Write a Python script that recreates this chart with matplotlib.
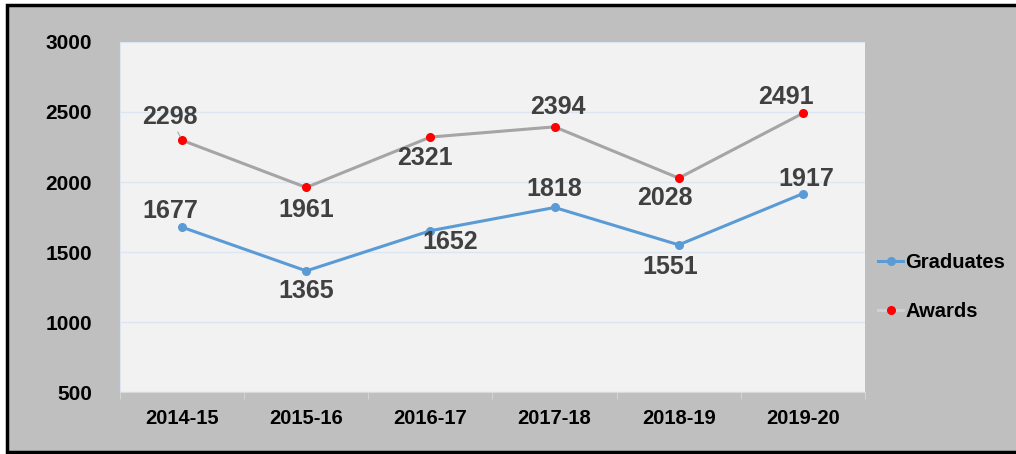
import matplotlib
matplotlib.use('Agg')
import matplotlib.pyplot as plt
from matplotlib.patches import Rectangle
from matplotlib.lines import Line2D

years = ['2014-15', '2015-16', '2016-17', '2017-18', '2018-19', '2019-20']
graduates = [1677, 1365, 1652, 1818, 1551, 1917]
awards = [2298, 1961, 2321, 2394, 2028, 2491]

# label offsets in pixels (dx, dy)
grad_offsets = [(-12, 16), (0, -20), (20, -11), (0, 18), (-9, -22), (3, 15)]
award_offsets = [(-12, 23), (0, -23), (-5, -21), (3, 20), (-14, -20), (-17, 16)]

plt.rcParams['font.family'] = ['Liberation Sans', 'DejaVu Sans']

fig = plt.figure(figsize=(10.16, 4.54), dpi=100, facecolor='white')
W, H = 1016, 454
fig.patches.append(Rectangle((7 / W, 1 - 452 / H), 1.1, (452 - 5) / H,
                             transform=fig.transFigure, facecolor='#bfbfbf',
                             edgecolor='black', linewidth=2.5, zorder=-10))

ax = fig.add_axes([120 / W, 1 - 392 / H, 745 / W, 350 / H])
ax.set_facecolor('#f2f2f2')
x = list(range(len(years)))

ax.plot(x, graduates, color='#5b9bd5', linewidth=2.2, marker='o',
        markersize=5.5, markerfacecolor='#5b9bd5', markeredgecolor='#5b9bd5', zorder=3)
ax.plot(x, awards, color='#a5a5a5', linewidth=2.2, marker='o',
        markersize=5.5, markerfacecolor='red', markeredgecolor='red', zorder=3)

for xi, v, (dx, dy) in zip(x, graduates, grad_offsets):
    ax.annotate(str(v), (xi, v), xytext=(dx, dy), textcoords='offset pixels',
                ha='center', va='center', fontsize=18, fontweight='bold', color='#404040')
for i, (xi, v, (dx, dy)) in enumerate(zip(x, awards, award_offsets)):
    kw = {}
    if i == 0:
        kw['arrowprops'] = dict(arrowstyle='-', color='#a5a5a5', lw=0.8,
                                shrinkA=10, shrinkB=3)
    ax.annotate(str(v), (xi, v), xytext=(dx, dy), textcoords='offset pixels',
                ha='center', va='center', fontsize=18, fontweight='bold',
                color='#404040', **kw)

ax.set_xlim(-0.5, len(years) - 0.5)
ax.set_ylim(500, 3000)
ax.set_yticks([500, 1000, 1500, 2000, 2500, 3000])
ax.set_xticks(x)
ax.set_xticklabels(years)
ax.set_xticks([i - 0.5 for i in range(len(years) + 1)], minor=True)
ax.tick_params(axis='x', which='major', length=0, pad=12, labelsize=14.5)
ax.tick_params(axis='x', which='minor', length=5, color='#d9d9d9', direction='out')
ax.tick_params(axis='y', length=0, pad=20, labelsize=15)
for lbl in ax.get_xticklabels() + ax.get_yticklabels():
    lbl.set_fontweight('bold')
ax.yaxis.grid(True, color='#dce6f2', linewidth=1)
ax.set_axisbelow(True)
for side in ['top', 'right']:
    ax.spines[side].set_visible(False)
ax.spines['left'].set_color('#dce6f2')
ax.spines['bottom'].set_color('#d9d9d9')

handles = [
    Line2D([], [], color='#5b9bd5', linewidth=2.2, marker='o', markersize=5.5,
           markerfacecolor='#5b9bd5', markeredgecolor='#5b9bd5'),
    Line2D([], [], color='#d0d0d0', linewidth=2.2, marker='o', markersize=5.5,
           markerfacecolor='red', markeredgecolor='red'),
]
fig.legend(handles, ['Graduates', 'Awards'], loc='center left',
           bbox_to_anchor=(878 / W, 1 - 287 / H), frameon=False,
           borderpad=0, borderaxespad=0,
           handlelength=1.25, handletextpad=0.12, labelspacing=1.45,
           prop={'weight': 'bold', 'size': 14.5})

fig.savefig('out.png', dpi=100, facecolor='white')
